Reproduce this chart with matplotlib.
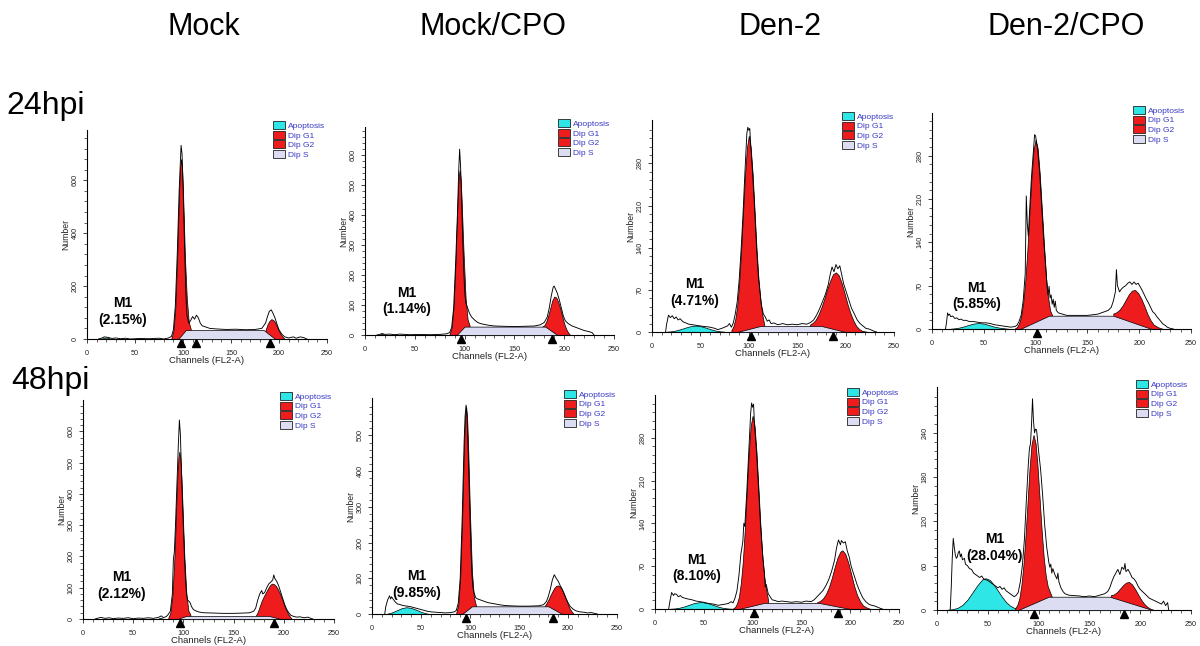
import matplotlib
matplotlib.use("Agg")
import matplotlib.pyplot as plt
from matplotlib.patches import Patch
from matplotlib.ticker import MultipleLocator, FixedLocator
from matplotlib.transforms import ScaledTranslation

plt.rcParams['font.family'] = ['Liberation Sans', 'DejaVu Sans']

# ---------------- data ----------------
COLUMN_TITLES = ["Mock", "Mock/CPO", "Den-2", "Den-2/CPO"]
ROW_LABELS = ["24hpi", "48hpi"]
M1_PERCENT = ["2.15%", "1.14%", "4.71%", "5.85%", "2.12%", "9.85%", "8.10%", "28.04%"]
Y_MAX = [790, 693, 352, 349, 700, 605, 350, 302]
Y_TICK_STEP = [200, 100, 70, 70, 100, 100, 70, 60]
Y_TICK_TOP = [600, 600, 280, 280, 600, 500, 280, 240]
LEGEND_LABELS = ["Apoptosis", "Dip G1", "Dip G2", "Dip S"]
PEAK_MARKERS = [[98, 114, 191], [96, 188], [102, 187], [101], [97, 190], [96, 185], [101, 187], [95, 184]]

# Panel 1: Mock 24hpi
RAW_1 = [(12,0),(15,3),(18,8),(22,6),(26,2),(30,4),(35,1),(40,3),(45,0),(55,2),(65,1),(75,3),(80,0),(85,4),(88,10),(90,35),(92,125),(94,320),(96,560),(98,732),(99,700),(100,590),(101,440),(102,300),(103,170),(104,90),(106,60),(108,70),(110,85),(112,75),(114,90),(116,80),(118,60),(120,50),(124,45),(128,40),(135,38),(145,36),(155,37),(165,35),(175,36),(182,40),(186,60),(188,85),(190,105),(192,110),(194,95),(196,78),(198,55),(200,35),(203,18),(206,8),(210,4),(215,8),(218,3),(222,8),(226,5),(229,0)]
G1_1 = [(88,5),(90,30),(92,117),(94,311),(95,438),(96,560),(97,647),(98,680),(99,647),(100,560),(101,438),(102,311),(104,151),(106,64),(108,39)]
G2_1 = [(186,34),(188,55),(190,68),(192,75),(194,72),(196,62),(198,46),(200,30),(202,17),(204,7),(206,0)]
S_1 = [(95,0),(103,34),(184,34),(196,0)]
AP_1 = [(14,0),(18,5),(21,5),(25,0)]

# Panel 2: Mock/CPO 24hpi
RAW_2 = [(12,0),(15,2),(17,5),(20,2),(25,3),(30,1),(35,3),(45,1),(55,2),(65,1),(75,2),(82,4),(85,8),(87,25),(89,90),(91,240),(93,420),(94,540),(95,619),(96,560),(97,450),(98,330),(99,230),(100,150),(101,110),(103,90),(105,72),(107,60),(110,50),(113,42),(116,38),(120,35),(125,32),(130,30),(140,29),(150,28),(160,29),(170,30),(176,34),(180,42),(183,60),(185,90),(187,130),(189,160),(190,163),(191,155),(193,140),(195,118),(197,92),(199,65),(201,48),(204,38),(208,30),(212,25),(216,20),(220,15),(224,12),(228,8),(230,0)]
G1_2 = [(85,4),(87,24),(89,95),(91,252),(92,355),(93,453),(94,524),(95,550),(96,524),(97,453),(98,360),(99,272),(101,123),(103,52),(105,32)]
G2_2 = [(178,28),(180,32),(182,45),(184,65),(186,90),(188,115),(190,128),(192,125),(194,110),(196,88),(198,62),(200,38),(202,20),(204,8),(206,0)]
S_2 = [(92,0),(100,28),(181,28),(193,0)]
AP_2 = [(14,0),(17,4),(20,0)]

# Panel 3: Den-2 24hpi
RAW_3 = [(14,0),(15,12),(17,28),(19,24),(21,27),(23,22),(25,25),(27,20),(29,22),(32,17),(35,15),(38,13),(42,12),(46,11),(50,10),(55,9),(60,8),(65,6),(68,4),(72,6),(75,8),(78,10),(80,14),(82,8),(84,15),(86,30),(88,50),(90,85),(92,135),(94,195),(96,265),(98,330),(99,340),(100,335),(101,338),(102,310),(104,262),(106,205),(108,140),(110,90),(112,60),(113,45),(115,30),(117,25),(119,18),(121,20),(123,14),(126,15),(130,12),(135,14),(140,12),(145,13),(150,12),(155,14),(160,13),(164,16),(167,20),(170,28),(173,38),(176,50),(179,62),(182,78),(184,95),(186,108),(188,100),(190,112),(192,105),(194,110),(196,95),(198,80),(200,70),(203,55),(206,40),(209,30),(212,20),(215,14),(218,10),(221,6),(224,5),(227,3),(230,1),(232,0)]
G1_3 = [(82,3),(84,9),(86,21),(88,43),(90,80),(92,133),(94,196),(96,258),(98,305),(100,326),(102,306),(104,262),(106,200),(108,138),(110,88),(112,53),(114,28),(116,12)]
G2_3 = [(163,12),(166,15),(169,20),(172,29),(175,41),(178,55),(181,71),(184,85),(187,96),(190,99),(193,94),(196,81),(199,64),(202,46),(205,31),(208,19),(211,10),(214,5),(217,2),(220,1),(224,0)]
S_3 = [(88,0),(112,10),(175,10),(200,0)]
AP_3 = [(15,0.5),(20,1.2),(25,2.6),(30,4.9),(35,7.5),(40,9.7),(45,10.6),(50,9.7),(55,7.5),(60,4.9),(65,2.6),(70,1.2),(75,0.5)]

# Panel 4: Den-2/CPO 24hpi
RAW_4 = [(13,0),(14,10),(15,26),(16,22),(17,24),(18,20),(20,21),(22,17),(24,18),(26,15),(28,16),(30,14),(33,14),(36,12),(40,12),(44,11),(48,10),(52,10),(56,9),(60,7),(64,6),(68,5),(72,4),(76,3),(80,4),(82,6),(84,12),(86,22),(88,45),(90,90),(91,215),(92,170),(93,150),(94,185),(96,245),(98,290),(99,314),(100,312),(101,300),(102,290),(104,250),(106,195),(108,140),(110,95),(111,70),(112,55),(113,69),(114,50),(115,55),(116,40),(117,48),(118,35),(119,45),(120,30),(122,26),(126,24),(130,22),(140,22),(150,22),(155,23),(160,24),(165,27),(170,30),(173,35),(175,45),(177,60),(178,96),(179,70),(181,60),(183,65),(185,68),(187,70),(189,74),(191,76),(193,72),(195,76),(197,72),(199,74),(201,68),(203,62),(205,55),(207,48),(209,42),(211,35),(213,28),(215,25),(217,20),(219,16),(221,12),(223,8),(225,6),(227,3),(230,1),(233,0)]
G1_4 = [(80,1),(82,3),(84,9),(86,20),(88,42),(90,77),(92,126),(94,186),(96,244),(98,289),(100,306),(102,292),(104,251),(106,195),(108,139),(110,85),(112,52),(114,30),(116,22)]
G2_4 = [(175,25),(178,27),(181,31),(184,38),(187,47),(190,56),(193,62),(196,63),(199,58),(202,49),(205,37),(208,24),(211,14),(214,7),(217,4),(220,1.5),(224,0)]
S_4 = [(85,0),(113,21.5),(175,21.5),(212,0)]
AP_4 = [(18,0.5),(22,1.1),(26,2.2),(30,3.8),(35,6.4),(40,8.7),(45,9.7),(50,8.7),(55,6.4),(60,3.8),(65,2.2),(70,1.1),(74,0.3)]

# Panel 5: Mock 48hpi
RAW_5 = [(12,0),(15,3),(18,5),(22,2),(26,4),(30,1),(35,3),(40,2),(45,4),(50,1),(55,3),(60,2),(65,4),(70,2),(75,5),(78,10),(80,4),(83,8),(85,15),(87,25),(89,80),(90,190),(91,215),(92,290),(93,380),(94,470),(95,560),(96,636),(97,590),(98,480),(99,380),(100,290),(101,205),(102,130),(103,85),(104,62),(105,58),(106,55),(107,50),(108,40),(110,30),(113,25),(116,22),(120,20),(130,19),(140,18),(150,18),(160,19),(166,20),(170,25),(172,35),(174,60),(176,80),(178,91),(179,80),(181,85),(183,100),(185,112),(187,118),(189,125),(190,141),(191,130),(193,120),(195,105),(197,85),(199,65),(201,45),(203,30),(205,20),(207,12),(210,8),(213,6),(216,7),(220,4),(224,6),(227,2),(229,0)]
G1_5 = [(85,4),(87,20),(89,72),(91,193),(92,278),(93,371),(94,454),(95,514),(96,535),(97,514),(98,455),(99,373),(100,282),(101,197),(103,78),(105,26),(107,14)]
G2_5 = [(172,10),(174,22),(176,40),(178,58),(180,72),(182,84),(184,96),(186,107),(188,113),(190,112),(192,106),(194,96),(196,82),(198,65),(200,48),(202,32),(204,18),(206,8),(208,0)]
S_5 = [(94,0),(103,10),(185,10),(197,0)]
AP_5 = [(74,0),(77,4),(80,0)]

# Panel 6: Mock/CPO 48hpi
RAW_6 = [(13,0),(14,20),(16,40),(18,51),(19,42),(20,48),(22,40),(24,33),(26,28),(28,27),(30,25),(33,23),(36,22),(40,20),(44,17),(48,14),(52,11),(56,8),(60,6),(65,5),(70,4),(75,3),(80,4),(84,6),(86,10),(88,30),(90,100),(92,265),(93,375),(94,480),(95,555),(96,585),(97,550),(98,470),(99,370),(100,270),(101,180),(102,110),(103,75),(104,60),(106,45),(108,42),(110,40),(112,38),(115,35),(118,32),(122,30),(126,28),(130,26),(135,24),(140,23),(150,22),(160,22),(170,23),(175,26),(178,35),(180,50),(182,70),(184,95),(186,110),(187,105),(188,100),(190,92),(192,80),(194,70),(196,58),(198,44),(200,32),(202,22),(205,14),(208,9),(212,6),(216,5),(220,3),(224,4),(228,1),(230,0)]
G1_6 = [(86,4),(88,26),(90,100),(92,267),(93,375),(94,479),(95,554),(96,582),(97,554),(98,480),(99,380),(100,280),(102,118),(104,47),(106,25)]
G2_6 = [(176,21),(178,30),(180,40),(182,52),(184,63),(186,73),(188,79),(190,80),(192,76),(194,67),(196,54),(198,40),(200,26),(202,14),(204,6),(206,0)]
S_6 = [(92,0),(102,21.5),(180,21.5),(194,0)]
AP_6 = [(15,0.5),(20,4),(25,10),(30,16),(35,19),(40,17),(45,12),(50,6),(55,2),(58,0)]

# Panel 7: Den-2 48hpi
RAW_7 = [(14,0),(15,10),(17,27),(19,22),(20,25),(22,24),(24,20),(26,22),(28,19),(30,18),(32,17),(35,16),(38,15),(42,13),(46,12),(50,11),(55,9),(60,8),(65,6),(68,7),(72,8),(75,9),(78,12),(80,10),(82,18),(84,30),(86,55),(88,90),(90,110),(91,140),(92,135),(94,190),(96,255),(98,320),(99,337),(100,330),(101,335),(102,300),(104,258),(106,200),(108,140),(110,95),(111,75),(112,60),(113,36),(114,40),(116,25),(118,20),(120,15),(123,14),(126,12),(130,13),(135,12),(140,11),(145,12),(150,11),(155,13),(160,12),(163,15),(166,20),(169,25),(172,30),(175,38),(178,48),(181,62),(184,80),(186,100),(188,113),(190,105),(191,112),(193,108),(195,110),(197,95),(199,85),(201,70),(204,55),(207,40),(210,28),(213,18),(216,12),(219,8),(222,6),(225,5),(228,3),(231,1),(233,0)]
G1_7 = [(80,1),(82,3),(84,9),(86,20),(88,43),(90,78),(92,130),(94,192),(96,253),(98,299),(100,316),(102,300),(104,256),(106,197),(108,137),(110,86),(112,52),(114,30),(116,14)]
G2_7 = [(166,11),(169,13),(172,17),(175,24),(178,35),(181,50),(184,68),(187,84),(190,94),(192,96),(195,90),(198,76),(201,57),(204,38),(207,23),(210,13),(213,6),(216,3),(219,1),(222,0)]
S_7 = [(86,0),(112,10),(168,10),(200,0)]
AP_7 = [(15,0.3),(20,0.9),(25,2.1),(30,4.2),(35,7),(40,9.7),(47,11.5),(54,9.7),(60,6.4),(65,3.7),(70,1.8),(75,0.8),(80,0.3)]

# Panel 8: Den-2/CPO 48hpi
RAW_8 = [(13,0),(14,30),(15,70),(16,97),(17,85),(18,75),(19,70),(20,72),(21,78),(22,80),(23,72),(24,76),(25,68),(27,70),(28,62),(30,60),(32,56),(34,55),(36,50),(38,48),(40,46),(42,44),(44,46),(46,42),(48,41),(50,40),(52,38),(54,36),(56,34),(58,32),(60,30),(62,32),(64,28),(66,30),(68,26),(70,24),(72,22),(74,20),(76,18),(78,20),(80,24),(82,38),(84,60),(86,95),(88,150),(90,200),(91,219),(92,225),(93,250),(94,286),(95,255),(96,240),(97,245),(98,244),(99,230),(100,215),(102,190),(104,155),(106,115),(108,85),(110,65),(111,58),(112,62),(113,50),(114,56),(116,48),(118,42),(119,50),(120,38),(122,30),(124,25),(126,22),(130,20),(140,19),(145,18),(150,19),(155,18),(160,20),(165,22),(168,25),(170,30),(172,38),(174,45),(176,50),(178,55),(180,48),(182,58),(184,55),(185,63),(186,52),(188,55),(190,50),(192,44),(194,42),(196,38),(198,32),(200,28),(203,24),(206,20),(209,16),(212,14),(215,12),(218,10),(221,8),(223,12),(225,6),(227,10),(228,0)]
G1_8 = [(77,2.5),(79,6.6),(81,15.6),(83,33),(85,60),(87,98),(89,143),(91,190),(93,224),(95,237),(97,226),(99,194),(101,151),(103,108),(105,72),(107,47),(109,32),(111,25),(113,18)]
G2_8 = [(171,20),(174,21),(177,24),(180,28.6),(183,33.4),(186,37),(189,38),(192,34.6),(195,28.3),(198,20.9),(201,13.8),(204,8.2),(207,4.3),(210,1.8),(213,0.3),(216,0)]
S_8 = [(80,0),(110,18),(170,18),(212,0)]
AP_8 = [(10,0.3),(15,1),(20,2.8),(25,6.8),(30,14),(35,24),(40,34),(45,42),(48,43),(52,40.7),(56,34),(60,26),(64,17.7),(68,10.7),(72,5.8),(76,2.8),(80,1.3)]

RAWS = [RAW_1, RAW_2, RAW_3, RAW_4, RAW_5, RAW_6, RAW_7, RAW_8]
G1S = [G1_1, G1_2, G1_3, G1_4, G1_5, G1_6, G1_7, G1_8]
G2S = [G2_1, G2_2, G2_3, G2_4, G2_5, G2_6, G2_7, G2_8]
SS = [S_1, S_2, S_3, S_4, S_5, S_6, S_7, S_8]
APS = [AP_1, AP_2, AP_3, AP_4, AP_5, AP_6, AP_7, AP_8]

# ---------------- layout (pixels in a 1200x646 canvas) ----------------
W, H = 1200, 646
# left, right, bottom(y of zero line), top (pixel rows from top)
AX_BOX = [(87, 327, 339, 130), (365, 614, 335, 127), (652, 894, 332, 120), (932, 1191, 329, 113),
          (83, 334, 619, 400), (372, 617, 614, 398), (655, 899, 609, 395), (937, 1191, 610, 387)]
LEGEND_POS = [(273, 121), (558, 119), (842, 112), (1133, 106),
              (280, 392), (564, 390), (847, 388), (1136, 380)]
M1_POS = [(0.15, 0.132), (0.169, 0.163), (0.178, 0.186), (0.174, 0.153),
          (0.155, 0.153), (0.184, 0.137), (0.172, 0.19), (0.228, 0.28)]
TITLE_X = [204, 493, 780, 1066]
TITLE_Y = 27
ROW_POS = [(6, 106), (11, 381)]

C_RED = '#ee1c1c'
C_CYAN = '#2ee6e6'
C_LAV = '#dcdcf2'
C_TEXT_BLUE = '#3838c4'

fig = plt.figure(figsize=(W / 100, H / 100), dpi=100)

for x, t in zip(TITLE_X, COLUMN_TITLES):
    fig.text(x / W, 1 - TITLE_Y / H, t, ha='center', va='center', fontsize=22)
for (x, y), t in zip(ROW_POS, ROW_LABELS):
    fig.text(x / W, 1 - y / H, t, ha='left', va='center', fontsize=23)


def xy(pairs):
    return [p[0] for p in pairs], [p[1] for p in pairs]


for i in range(8):
    l, r, b, t = AX_BOX[i]
    ax = fig.add_axes([l / W, 1 - b / H, (r - l) / W, (b - t) / H])
    ax.set_xlim(0, 250)
    ax.set_ylim(0, Y_MAX[i])
    for sp in ('top', 'right'):
        ax.spines[sp].set_visible(False)
    for sp in ('left', 'bottom'):
        ax.spines[sp].set_linewidth(0.8)

    ax_x, ax_y = xy(APS[i])
    ax.fill_between(ax_x, ax_y, 0, facecolor=C_CYAN, edgecolor='black', linewidth=0.5, zorder=2)
    gx, gy = xy(G1S[i])
    ax.fill_between(gx, gy, 0, facecolor=C_RED, edgecolor='black', linewidth=0.5, zorder=2)
    gx, gy = xy(G2S[i])
    ax.fill_between(gx, gy, 0, facecolor=C_RED, edgecolor='black', linewidth=0.5, zorder=2)
    sx, sy = xy(SS[i])
    ax.fill_between(sx, sy, 0, facecolor=C_LAV, edgecolor='black', linewidth=0.5, zorder=3)
    rx, ry = xy(RAWS[i])
    ax.plot(rx, ry, color='black', linewidth=0.65, zorder=4)

    # peak markers sitting just below the axis line
    trans = ax.get_xaxis_transform() + ScaledTranslation(0, -3.8 / 100, fig.dpi_scale_trans)
    ax.plot(PEAK_MARKERS[i], [0] * len(PEAK_MARKERS[i]), linestyle='none', marker='^',
            markersize=6, color='black', transform=trans, clip_on=False, zorder=5)

    ax.xaxis.set_major_locator(MultipleLocator(50))
    ax.xaxis.set_minor_locator(MultipleLocator(10))
    step = Y_TICK_STEP[i]
    majors = list(range(0, Y_TICK_TOP[i] + 1, step))
    minors = [k * step / 5 for k in range(int(Y_MAX[i] * 5 / step) + 1) if k % 5]
    ax.yaxis.set_major_locator(FixedLocator(majors))
    ax.yaxis.set_minor_locator(FixedLocator(minors))
    ax.tick_params(which='major', direction='out', length=3, width=0.6, labelsize=5.2, pad=3,
                   colors='#222222')
    ax.tick_params(axis='x', which='major', pad=5)
    ax.tick_params(which='minor', direction='out', length=2, width=0.5, colors='#222222')
    for lab in ax.get_yticklabels():
        lab.set_rotation(90)
        lab.set_va('center')
    ax.set_xlabel("Channels (FL2-A)", fontsize=6.8, labelpad=-0.5, color='#222222')
    ax.set_ylabel("Number", fontsize=6.2, labelpad=1, color='#222222')

    ax.text(M1_POS[i][0], M1_POS[i][1], "M1\n(" + M1_PERCENT[i] + ")", transform=ax.transAxes,
            ha='center', va='center', fontsize=10, fontweight='bold', linespacing=1.2)

    handles = [Patch(facecolor=c, edgecolor='#222222', linewidth=0.6)
               for c in (C_CYAN, C_RED, C_RED, C_LAV)]
    lx, ly = LEGEND_POS[i]
    ax.legend(handles, LEGEND_LABELS, loc='upper left', bbox_to_anchor=(lx / W, 1 - ly / H),
              bbox_transform=fig.transFigure, frameon=False, fontsize=6, handlelength=1.4,
              handleheight=1.1, handletextpad=0.35, labelspacing=0.1, borderpad=0,
              borderaxespad=0, labelcolor=C_TEXT_BLUE)

fig.savefig("out.png", dpi=100)
